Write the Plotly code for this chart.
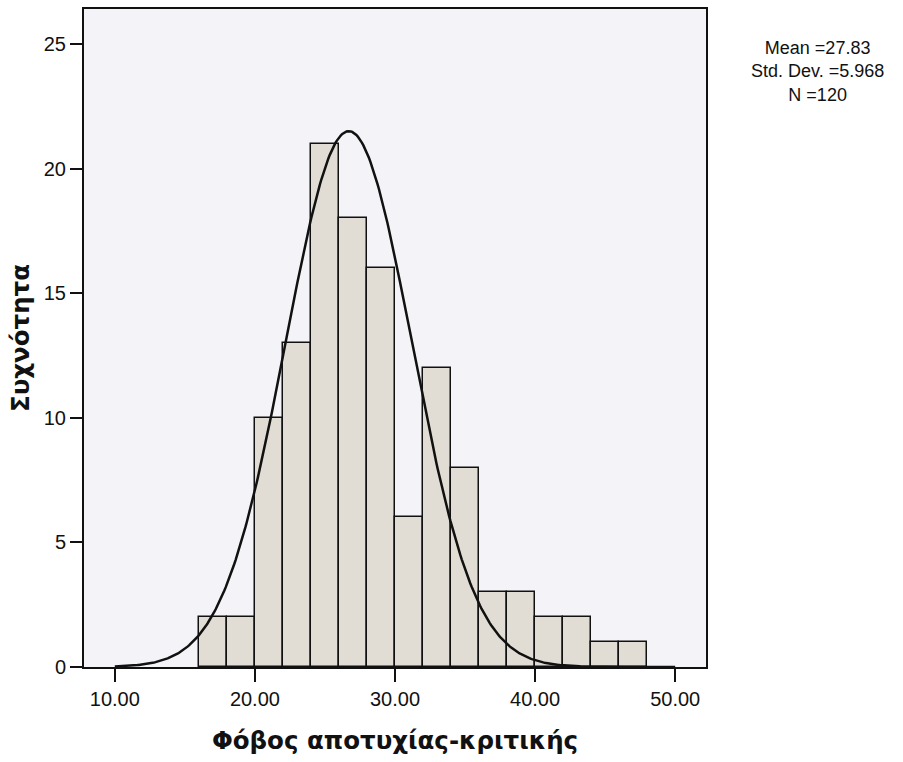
import numpy as np
import plotly.graph_objects as go

# Histogram bins (left edges, width 2) and frequencies
bin_left = [16, 18, 20, 22, 24, 26, 28, 30, 32, 34, 36, 38, 40, 42, 44, 46]
counts = [2, 2, 10, 13, 21, 18, 16, 6, 12, 8, 3, 3, 2, 2, 1, 1]
bin_width = 2

# Normal curve drawn over the histogram (shape)
curve_mean = 26.7
curve_sd = 4.5
curve_peak = 21.5

x_ticks = [10, 20, 30, 40, 50]
y_ticks = [0, 5, 10, 15, 20, 25]

stats_text = ["Mean =27.83", "Std. Dev. =5.968", "N =120"]

centers = [b + bin_width / 2 for b in bin_left]
xc = np.linspace(10, 50, 400)
yc = curve_peak * np.exp(-0.5 * ((xc - curve_mean) / curve_sd) ** 2)

L, R, T, B = 84, 706, 7, 666.7

fig = go.Figure()
fig.add_trace(go.Bar(
    x=centers, y=counts, width=bin_width,
    marker=dict(color="#e2ddd4", line=dict(color="#111111", width=1.5)),
    showlegend=False, hoverinfo="skip",
))
fig.add_trace(go.Scatter(
    x=xc, y=yc, mode="lines",
    line=dict(color="#111111", width=2.5),
    showlegend=False, hoverinfo="skip",
))

fig.add_annotation(
    x=(817 - L) / (R - L), y=1 - (70 - T) / (B - T),
    xref="paper", yref="paper", text="<br>".join(stats_text), showarrow=False,
    xanchor="center", yanchor="middle", align="center",
    font=dict(family="Liberation Sans, Arial", size=18, color="#111111"),
)

title_font = dict(family="DejaVu Sans", size=24.5, color="#111111", weight="bold")

fig.update_layout(
    width=903, height=762,
    margin=dict(l=L, r=903 - R, t=T, b=762 - B),
    paper_bgcolor="white",
    plot_bgcolor="#f4f4f8",
    bargap=0,
    font=dict(family="Liberation Sans, Arial", color="#111111"),
)
fig.update_xaxes(
    range=[7.8, 52.2], tickvals=x_ticks, tickformat=".2f",
    ticks="outside", ticklen=13, tickwidth=2, tickcolor="#111111",
    showline=True, linecolor="#111111", linewidth=2, mirror=True,
    showgrid=False, zeroline=False,
    tickfont=dict(family="Liberation Sans, Arial", size=20, color="#111111"),
    title=dict(text="Φόβος αποτυχίας-κριτικής", standoff=23, font=title_font),
)
fig.update_yaxes(
    range=[0, 26.4], tickvals=y_ticks,
    ticks="outside", ticklen=12, tickwidth=2, tickcolor="#111111",
    showline=True, linecolor="#111111", linewidth=2, mirror=True,
    showgrid=False, zeroline=False,
    tickfont=dict(family="Liberation Sans, Arial", size=20, color="#111111"),
    title=dict(text="Συχνότητα", standoff=7, font=title_font),
)

fig.write_html("out.html")
